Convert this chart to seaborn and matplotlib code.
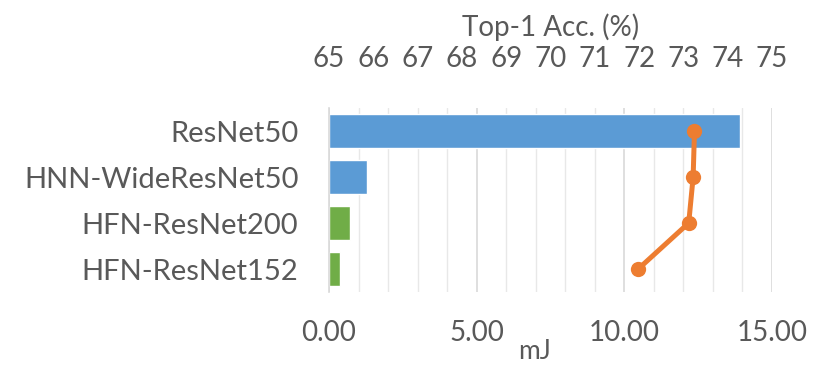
import matplotlib
matplotlib.use("Agg")
import matplotlib.pyplot as plt
import seaborn as sns
import pandas as pd
from matplotlib.ticker import MultipleLocator, FormatStrFormatter

models = ["ResNet50", "HNN-WideResNet50", "HFN-ResNet200", "HFN-ResNet152"]
energy_mj = [13.9, 1.28, 0.72, 0.37]
top1_acc = [73.25, 73.22, 73.12, 71.98]
bar_colors = ["#5B9BD5", "#5B9BD5", "#70AD47", "#70AD47"]

sns.set_style("white")
plt.rcParams["font.family"] = ["Lato", "DejaVu Sans"]
text_color = "#595959"

df = pd.DataFrame({"model": models, "energy": energy_mj, "acc": top1_acc})

fig = plt.figure(figsize=(8.3, 3.75), dpi=100)
ax = fig.add_axes([329 / 830, 1 - 292 / 375, (772 - 329) / 830, (292 - 108) / 375])

sns.barplot(data=df, x="energy", y="model", hue="model", palette=bar_colors,
            legend=False, width=0.76, ax=ax, saturation=1)
ax.set_xlim(0, 15)
ax.set_ylim(3.5, -0.5)
ax.xaxis.set_major_locator(MultipleLocator(5))
ax.xaxis.set_minor_locator(MultipleLocator(1))
ax.xaxis.set_major_formatter(FormatStrFormatter("%.2f"))
ax.grid(axis="x", which="major", color="#D9D9D9", linewidth=1.2)
ax.grid(axis="x", which="minor", color="#E8E8E8", linewidth=1.0)
ax.set_axisbelow(True)
ax.tick_params(axis="x", which="both", length=0, pad=20, labelsize=20, colors=text_color)
ax.tick_params(axis="y", length=0, pad=22, labelsize=21, colors=text_color)
ax.set_ylabel("")
ax.set_xlabel("mJ", fontsize=19, color=text_color)
ax.xaxis.set_label_coords(0.465, -0.255)
for s in ["top", "right", "bottom"]:
    ax.spines[s].set_visible(False)
ax.spines["left"].set_color("#D9D9D9")
ax.spines["left"].set_linewidth(1.2)

ax2 = ax.twiny()
sns.lineplot(x=top1_acc, y=[0, 1, 2, 3], ax=ax2, orient="y", sort=False,
             estimator=None, color="#ED7D31", linewidth=3.6, marker="o",
             markersize=11, markeredgewidth=0)
ax2.set_xlim(65, 75)
ax2.set_ylim(3.5, -0.5)
ax2.xaxis.set_major_locator(MultipleLocator(1))
ax2.tick_params(axis="x", length=0, pad=26, labelsize=20, colors=text_color)
ax2.set_xlabel("Top-1 Acc. (%)", fontsize=20, color=text_color)
ax2.xaxis.set_label_coords(0.5, 1.39)
ax2.grid(False)
for s in ax2.spines.values():
    s.set_visible(False)

fig.savefig("out.png", dpi=100)
